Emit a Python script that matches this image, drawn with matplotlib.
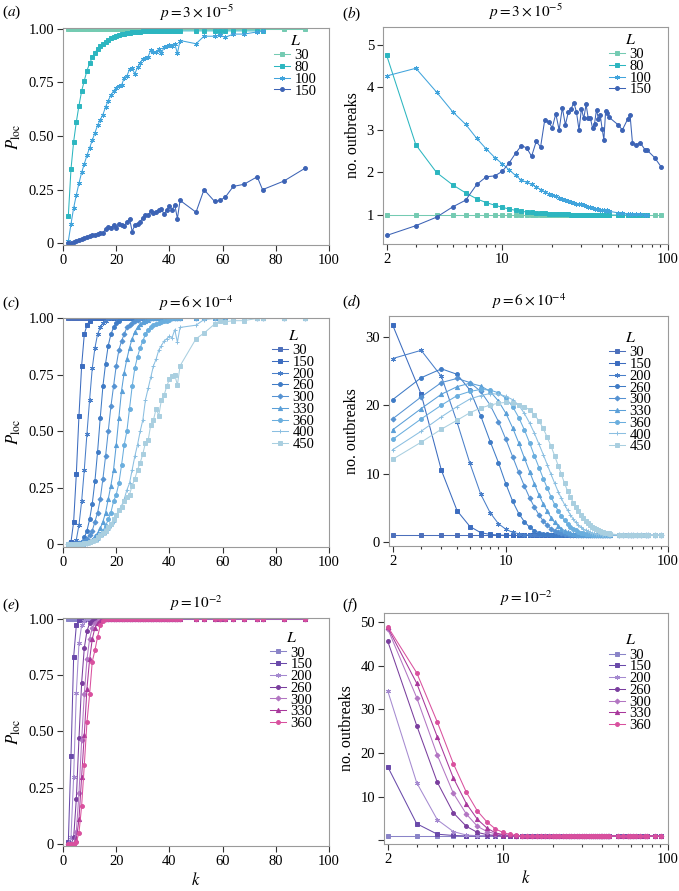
import matplotlib
matplotlib.use('Agg')
import matplotlib.pyplot as plt
from matplotlib.ticker import FixedLocator, FixedFormatter, NullFormatter

plt.rcParams['font.family'] = 'serif'
plt.rcParams['font.serif'] = ['Liberation Serif', 'DejaVu Serif']
plt.rcParams['mathtext.fontset'] = 'stix'

# k values used by every series
k_vals = [2, 3, 4, 5, 6, 7, 8, 9, 10, 11, 12, 13, 14, 15, 16, 17, 18, 19, 20, 21,
          22, 23, 24, 25, 26, 27, 28, 29, 30, 31, 32, 33, 34, 35, 36, 37, 38, 39, 40, 41,
          42, 43, 44, 50, 53, 57, 59, 61, 64, 68, 73, 75, 83, 91]

# L = 30 is flat at 1 in every panel
flat_30 = [1, 1, 1, 1, 1, 1, 1, 1, 1, 1,
           1, 1, 1, 1, 1, 1, 1, 1, 1, 1,
           1, 1, 1, 1, 1, 1, 1, 1, 1, 1,
           1, 1, 1, 1, 1, 1, 1, 1, 1, 1,
           1, 1, 1,
           1, 1, 1, 1, 1, 1, 1, 1, 1, 1, 1]

# ---- (a) P_loc, p = 3e-5 ----
a_80 = [0.128, 0.346, 0.474, 0.565, 0.642, 0.709, 0.758, 0.805, 0.838, 0.866,
        0.889, 0.905, 0.918, 0.931, 0.940, 0.948, 0.955, 0.962, 0.966, 0.970,
        0.974, 0.977, 0.980, 0.982, 0.984, 0.985, 0.986, 0.987, 0.988, 0.988,
        0.989, 0.989, 0.990, 0.990, 0.990, 0.990, 0.990, 0.990, 0.990, 0.990,
        0.990, 0.990, 0.990,
        0.990, 0.990, 0.990, 0.990, 0.990, 0.990, 0.990, 0.990, 0.990]
a_100 = [0.010, 0.090, 0.165, 0.225, 0.280, 0.330, 0.370, 0.410, 0.445, 0.480,
         0.515, 0.550, 0.575, 0.600, 0.635, 0.665, 0.690, 0.710, 0.725, 0.735,
         0.737, 0.770, 0.780, 0.810, 0.815, 0.790, 0.820, 0.840, 0.860, 0.865,
         0.870, 0.900, 0.890, 0.890, 0.905, 0.885, 0.915, 0.920, 0.925, 0.920,
         0.930, 0.885, 0.945,
         0.930, 0.965, 0.965, 0.970, 0.960, 0.975, 0.975, 0.985, 0.990]
a_150 = [0.000, 0.000, 0.005, 0.010, 0.015, 0.020, 0.025, 0.030, 0.033, 0.037,
         0.040, 0.045, 0.050, 0.050, 0.065, 0.075, 0.070, 0.085, 0.070, 0.090,
         0.085, 0.080, 0.100, 0.115, 0.055, 0.085, 0.090, 0.100, 0.120, 0.130,
         0.130, 0.150, 0.140, 0.145, 0.155, 0.160, 0.135, 0.155, 0.175, 0.155,
         0.180, 0.115, 0.200,
         0.145, 0.250, 0.195, 0.200, 0.215, 0.265, 0.275, 0.310, 0.250, 0.290, 0.350]

# ---- (b) no. outbreaks, p = 3e-5 ----
b_80 = [4.75, 2.65, 2.00, 1.71, 1.52, 1.38, 1.29, 1.23, 1.18, 1.14,
        1.11, 1.09, 1.07, 1.06, 1.05, 1.045, 1.04, 1.035, 1.03, 1.025,
        1.02, 1.02, 1.015, 1.015, 1.01, 1.01, 1.01, 1.01, 1.005, 1.005,
        1.005, 1.005, 1.005, 1, 1, 1, 1, 1, 1, 1,
        1, 1, 1,
        1, 1, 1, 1, 1, 1, 1, 1, 1]
b_100 = [4.27, 4.45, 3.89, 3.43, 3.13, 2.80, 2.55, 2.35, 2.20, 2.06,
         1.93, 1.82, 1.77, 1.72, 1.66, 1.60, 1.55, 1.50, 1.47, 1.44,
         1.41, 1.38, 1.36, 1.34, 1.31, 1.29, 1.27, 1.25, 1.25, 1.23,
         1.21, 1.19, 1.18, 1.17, 1.15, 1.14, 1.13, 1.12, 1.12, 1.11,
         1.10, 1.11, 1.09,
         1.05, 1.04, 1.03, 1.03, 1.03, 1.02, 1.02, 1.01, 1.01]
b_150 = [0.52, 0.75, 0.95, 1.19, 1.35, 1.72, 1.90, 1.92, 2.03, 2.23,
         2.45, 2.63, 2.58, 2.38, 2.73, 2.60, 3.23, 3.19, 3.05, 3.38,
         3.00, 3.52, 3.12, 3.42, 3.50, 3.64, 3.42, 3.00, 3.50, 3.27,
         3.60, 3.27, 3.27, 3.05, 3.15, 3.48, 3.25, 3.34, 3.03, 2.77,
         3.45, 3.40, 3.30,
         3.12, 3.00, 3.25, 3.35, 2.70, 2.65, 2.70, 2.52, 2.52, 2.35, 2.13]

# ---- (c) P_loc, p = 6e-4 ----
c_150 = [0, 0.01, 0.10, 0.31, 0.57, 0.79, 0.93, 0.97, 0.99, 1,
         1, 1, 1, 1, 1, 1, 1, 1, 1, 1,
         1, 1, 1, 1, 1, 1, 1, 1, 1, 1,
         1, 1, 1, 1, 1, 1, 1, 1, 1, 1,
         1, 1, 1,
         1, 1, 1, 1, 1, 1, 1, 1, 1, 1, 1]
c_200 = [0, 0, 0.005, 0.02, 0.085, 0.19, 0.33, 0.49, 0.64, 0.78,
         0.87, 0.93, 0.96, 0.98, 0.99, 1, 1, 1, 1, 1,
         1, 1, 1, 1, 1, 1, 1, 1, 1, 1,
         1, 1, 1, 1, 1, 1, 1, 1, 1, 1,
         1, 1, 1,
         1, 1, 1, 1, 1, 1, 1, 1, 1, 1, 1]
c_260 = [0, 0, 0, 0, 0.005, 0.01, 0.03, 0.06, 0.11, 0.18,
         0.28, 0.41, 0.56, 0.70, 0.80, 0.88, 0.93, 0.96, 0.98, 0.99,
         1, 1, 1, 1, 1, 1, 1, 1, 1, 1,
         1, 1, 1, 1, 1, 1, 1, 1, 1, 1,
         1, 1, 1,
         1, 1, 1, 1, 1, 1, 1, 1, 1, 1, 1]
c_300 = [0, 0, 0, 0, 0.005, 0.01, 0.015, 0.025, 0.04, 0.06,
         0.10, 0.14, 0.20, 0.29, 0.39, 0.50, 0.61, 0.70, 0.79, 0.86,
         0.90, 0.93, 0.96, 0.97, 0.98, 0.99, 0.995, 1, 1, 1,
         1, 1, 1, 1, 1, 1, 1, 1, 1, 1,
         1, 1, 1,
         1, 1, 1, 1, 1, 1, 1, 1, 1, 1, 1]
c_330 = [0, 0, 0, 0, 0, 0, 0.005, 0.01, 0.015, 0.02,
         0.035, 0.05, 0.07, 0.10, 0.14, 0.20, 0.26, 0.33, 0.44, 0.56,
         0.68, 0.76, 0.82, 0.87, 0.91, 0.94, 0.96, 0.975, 0.985, 0.99,
         0.995, 1, 1, 1, 1, 1, 1, 1, 1, 1,
         1, 1, 1,
         1, 1, 1, 1, 1, 1, 1, 1, 1, 1, 1]
c_360 = [0, 0, 0, 0, 0, 0, 0, 0.005, 0.01, 0.015,
         0.02, 0.03, 0.045, 0.06, 0.08, 0.11, 0.14, 0.19, 0.22, 0.27,
         0.35, 0.44, 0.50, 0.60, 0.70, 0.78, 0.83, 0.87, 0.90, 0.93,
         0.95, 0.96, 0.97, 0.975, 0.98, 0.985, 0.99, 0.99, 0.995, 1,
         1, 1, 1,
         1, 1, 1, 1, 1, 1, 1, 1, 1, 1, 1]
c_400 = [0, 0, 0, 0, 0, 0, 0, 0, 0.005, 0.01,
         0.015, 0.02, 0.03, 0.04, 0.05, 0.065, 0.08, 0.10, 0.12, 0.15,
         0.17, 0.20, 0.24, 0.27, 0.33, 0.39, 0.44, 0.50, 0.55, 0.64,
         0.69, 0.74, 0.79, 0.82, 0.86, 0.88, 0.90, 0.91, 0.92, 0.915,
         0.95, 0.895, 0.96,
         0.97, 0.995, 1, 1, 1, 1, 1, 1, 1, 1, 1]
c_450 = [0, 0, 0, 0, 0, 0, 0.005, 0.005, 0.01, 0.015,
         0.02, 0.03, 0.04, 0.05, 0.06, 0.075, 0.09, 0.11, 0.13, 0.15,
         0.165, 0.19, 0.21, 0.22, 0.26, 0.29, 0.33, 0.36, 0.40, 0.45,
         0.46, 0.53, 0.55, 0.60, 0.57, 0.64, 0.66, 0.70, 0.73, 0.745,
         0.75, 0.705, 0.79,
         0.91, 0.935, 0.975, 0.99, 0.985, 0.99, 0.99, 1, 1, 1, 1]

# ---- (d) no. outbreaks, p = 6e-4 ----
d_150 = [31.7, 21.6, 10.5, 4.6, 2.3, 1.4, 1.15, 1.06, 1.02, 1,
         1, 1, 1, 1, 1, 1, 1, 1, 1, 1,
         1, 1, 1, 1, 1, 1, 1, 1, 1, 1,
         1, 1, 1, 1, 1, 1, 1, 1, 1, 1,
         1, 1, 1,
         1, 1, 1, 1, 1, 1, 1, 1, 1, 1, 1]
d_200 = [26.8, 28.0, 24.2, 17.5, 11.5, 7.0, 4.3, 2.7, 1.9, 1.45,
         1.25, 1.12, 1.07, 1.04, 1.02, 1.01, 1, 1, 1, 1,
         1, 1, 1, 1, 1, 1, 1, 1, 1, 1,
         1, 1, 1, 1, 1, 1, 1, 1, 1, 1,
         1, 1, 1,
         1, 1, 1, 1, 1, 1, 1, 1, 1, 1, 1]
d_260 = [20.8, 24.0, 25.3, 24.5, 22.2, 18.4, 14.7, 11.6, 8.5, 6.0,
         4.2, 3.0, 2.2, 1.7, 1.4, 1.25, 1.15, 1.10, 1.06, 1.04,
         1.02, 1.01, 1, 1, 1, 1, 1, 1, 1, 1,
         1, 1, 1, 1, 1, 1, 1, 1, 1, 1,
         1, 1, 1,
         1, 1, 1, 1, 1, 1, 1, 1, 1, 1, 1]
d_300 = [18.0, 21.2, 23.3, 23.9, 23.3, 22.0, 20.0, 17.6, 15.0, 12.5,
         10.2, 8.2, 6.5, 5.1, 4.0, 3.1, 2.5, 2.0, 1.7, 1.5,
         1.35, 1.25, 1.17, 1.12, 1.08, 1.06, 1.04, 1.03, 1.02, 1.01,
         1, 1, 1, 1, 1, 1, 1, 1, 1, 1,
         1, 1, 1,
         1, 1, 1, 1, 1, 1, 1, 1, 1, 1, 1]
d_330 = [16.4, 19.5, 21.6, 22.7, 23.2, 22.8, 22.0, 20.6, 18.8, 16.7,
         14.5, 12.3, 10.3, 8.5, 6.9, 5.6, 4.5, 3.6, 2.9, 2.4,
         2.0, 1.7, 1.5, 1.35, 1.25, 1.18, 1.13, 1.10, 1.07, 1.05,
         1.04, 1.03, 1.02, 1.02, 1.01, 1.01, 1, 1, 1, 1,
         1, 1, 1,
         1, 1, 1, 1, 1, 1, 1, 1, 1, 1, 1]
d_360 = [15.0, 18.0, 20.0, 21.4, 22.0, 22.3, 22.2, 21.8, 21.0, 19.8,
         18.2, 16.4, 14.5, 12.6, 10.9, 9.3, 7.9, 6.6, 5.5, 4.6,
         3.8, 3.2, 2.7, 2.3, 2.0, 1.75, 1.56, 1.42, 1.32, 1.24,
         1.18, 1.14, 1.10, 1.08, 1.06, 1.05, 1.04, 1.03, 1.02, 1.02,
         1.01, 1.01, 1.01,
         1, 1, 1, 1, 1, 1, 1, 1, 1, 1, 1]
d_400 = [13.5, 16.2, 18.3, 19.8, 20.9, 21.4, 21.7, 21.6, 21.3, 20.8,
         20.0, 18.8, 17.4, 15.9, 14.3, 12.8, 11.3, 9.9, 8.6, 7.4,
         6.4, 5.5, 4.7, 4.0, 3.4, 2.9, 2.5, 2.2, 1.95, 1.75,
         1.6, 1.48, 1.38, 1.3, 1.23, 1.18, 1.14, 1.10, 1.08, 1.06,
         1.05, 1.04, 1.03,
         1.01, 1, 1, 1, 1, 1, 1, 1, 1, 1, 1]
d_450 = [12.1, 14.6, 16.5, 17.8, 18.9, 19.6, 20.0, 20.3, 20.4, 20.3,
         20.0, 19.8, 19.3, 18.6, 17.7, 16.6, 15.3, 14.0, 12.6, 11.2,
         9.9, 8.6, 7.5, 6.6, 5.8, 5.1, 4.5, 4.0, 3.5, 3.1,
         2.8, 2.5, 2.25, 2.05, 1.9, 1.75, 1.65, 1.55, 1.47, 1.4,
         1.35, 1.3, 1.25,
         1.08, 1.04, 1.02, 1.01, 1, 1, 1, 1, 1, 1, 1]

# ---- (e) P_loc, p = 1e-2 ----
e_150 = [0.01, 0.39, 0.83, 0.97, 0.995, 1, 1, 1, 1, 1,
         1, 1, 1, 1, 1, 1, 1, 1, 1, 1,
         1, 1, 1, 1, 1, 1, 1, 1, 1, 1,
         1, 1, 1, 1, 1, 1, 1, 1, 1, 1,
         1, 1, 1,
         1, 1, 1, 1, 1, 1, 1, 1, 1, 1, 1]
e_200 = [0, 0.03, 0.30, 0.67, 0.89, 0.97, 0.99, 1, 1, 1,
         1, 1, 1, 1, 1, 1, 1, 1, 1, 1,
         1, 1, 1, 1, 1, 1, 1, 1, 1, 1,
         1, 1, 1, 1, 1, 1, 1, 1, 1, 1,
         1, 1, 1,
         1, 1, 1, 1, 1, 1, 1, 1, 1, 1, 1]
e_260 = [0, 0, 0.03, 0.20, 0.47, 0.715, 0.87, 0.945, 0.98, 0.99,
         1, 1, 1, 1, 1, 1, 1, 1, 1, 1,
         1, 1, 1, 1, 1, 1, 1, 1, 1, 1,
         1, 1, 1, 1, 1, 1, 1, 1, 1, 1,
         1, 1, 1,
         1, 1, 1, 1, 1, 1, 1, 1, 1, 1, 1]
e_300 = [0, 0, 0, 0.055, 0.225, 0.46, 0.665, 0.82, 0.91, 0.96,
         0.98, 0.99, 1, 1, 1, 1, 1, 1, 1, 1,
         1, 1, 1, 1, 1, 1, 1, 1, 1, 1,
         1, 1, 1, 1, 1, 1, 1, 1, 1, 1,
         1, 1, 1,
         1, 1, 1, 1, 1, 1, 1, 1, 1, 1, 1]
e_330 = [0, 0, 0, 0.02, 0.11, 0.30, 0.485, 0.69, 0.82, 0.91,
         0.96, 0.98, 0.99, 1, 1, 1, 1, 1, 1, 1,
         1, 1, 1, 1, 1, 1, 1, 1, 1, 1,
         1, 1, 1, 1, 1, 1, 1, 1, 1, 1,
         1, 1, 1,
         1, 1, 1, 1, 1, 1, 1, 1, 1, 1, 1]
e_360 = [0, 0, 0, 0.01, 0.05, 0.17, 0.35, 0.54, 0.665, 0.81,
         0.86, 0.92, 0.97, 0.99, 1, 1, 1, 1, 1, 1,
         1, 1, 1, 1, 1, 1, 1, 1, 1, 1,
         1, 1, 1, 1, 1, 1, 1, 1, 1, 1,
         1, 1, 1,
         1, 1, 1, 1, 1, 1, 1, 1, 1, 1, 1]

# ---- (f) no. outbreaks, p = 1e-2 ----
f_150 = [16.9, 3.8, 1.4, 1.1, 1, 1, 1, 1, 1, 1,
         1, 1, 1, 1, 1, 1, 1, 1, 1, 1,
         1, 1, 1, 1, 1, 1, 1, 1, 1, 1,
         1, 1, 1, 1, 1, 1, 1, 1, 1, 1,
         1, 1, 1,
         1, 1, 1, 1, 1, 1, 1, 1, 1, 1, 1]
f_200 = [34.3, 13.2, 4.7, 2.0, 1.2, 1.05, 1, 1, 1, 1,
         1, 1, 1, 1, 1, 1, 1, 1, 1, 1,
         1, 1, 1, 1, 1, 1, 1, 1, 1, 1,
         1, 1, 1, 1, 1, 1, 1, 1, 1, 1,
         1, 1, 1,
         1, 1, 1, 1, 1, 1, 1, 1, 1, 1, 1]
f_260 = [45.7, 26.3, 13.3, 6.3, 3.2, 1.8, 1.3, 1.1, 1, 1,
         1, 1, 1, 1, 1, 1, 1, 1, 1, 1,
         1, 1, 1, 1, 1, 1, 1, 1, 1, 1,
         1, 1, 1, 1, 1, 1, 1, 1, 1, 1,
         1, 1, 1,
         1, 1, 1, 1, 1, 1, 1, 1, 1, 1, 1]
f_300 = [48.5, 32.7, 19.5, 10.8, 6.0, 3.2, 2.0, 1.5, 1.2, 1.1,
         1, 1, 1, 1, 1, 1, 1, 1, 1, 1,
         1, 1, 1, 1, 1, 1, 1, 1, 1, 1,
         1, 1, 1, 1, 1, 1, 1, 1, 1, 1,
         1, 1, 1,
         1, 1, 1, 1, 1, 1, 1, 1, 1, 1, 1]
f_330 = [48.8, 36.0, 23.7, 14.3, 8.4, 4.8, 2.8, 1.7, 1.3, 1.1,
         1, 1, 1, 1, 1, 1, 1, 1, 1, 1,
         1, 1, 1, 1, 1, 1, 1, 1, 1, 1,
         1, 1, 1, 1, 1, 1, 1, 1, 1, 1,
         1, 1, 1,
         1, 1, 1, 1, 1, 1, 1, 1, 1, 1, 1]
f_360 = [49.0, 38.4, 27.1, 17.6, 11.0, 6.7, 4.2, 2.6, 1.8, 1.35,
         1.15, 1.07, 1, 1, 1, 1, 1, 1, 1, 1,
         1, 1, 1, 1, 1, 1, 1, 1, 1, 1,
         1, 1, 1, 1, 1, 1, 1, 1, 1, 1,
         1, 1, 1,
         1, 1, 1, 1, 1, 1, 1, 1, 1, 1, 1]

# styles
star = (6, 2, 0)
style_top = {30: ('#74cbb2', 's'), 80: ('#2cb6c0', 's'), 100: ('#41a4dc', star), 150: ('#3c63b5', 'o')}
style_mid = {30: ('#4c6fbb', 's'), 150: ('#3c6cbf', 's'), 200: ('#4a7fc9', star), 260: ('#3f7bc6', 'o'),
             300: ('#5592d2', 'D'), 330: ('#5a9fd8', '^'), 360: ('#6aaede', 'o'), 400: ('#8bbfe1', '+'),
             450: ('#a9cfe0', 's')}
style_bot = {30: ('#8a84c8', 's'), 150: ('#6a4aaa', 's'), 200: ('#a58ad0', star), 260: ('#7a3e9e', 'o'),
             300: ('#b275c2', 'D'), 330: ('#a8379b', '^'), 360: ('#d9509e', 'o')}
marker_size = {'s': 2.8, 'o': 2.8, 'D': 2.5, '^': 3.0, '+': 3.2, star: 3.4}

panels = [
    ('a', [0.0928, 0.7250, 0.3918, 0.2435], False, r'$p = 3 \times 10^{-5}$', style_top,
     [(30, flat_30), (80, a_80), (100, a_100), (150, a_150)], (0.793, 0.977)),
    ('b', [0.5641, 0.7262, 0.4197, 0.2435], True, r'$p = 3 \times 10^{-5}$', style_top,
     [(30, flat_30), (80, b_80), (100, b_100), (150, b_150)], (0.793, 0.977)),
    ('c', [0.0928, 0.3864, 0.3918, 0.2570], False, r'$p = 6 \times 10^{-4}$', style_mid,
     [(30, flat_30), (150, c_150), (200, c_200), (260, c_260), (300, c_300), (330, c_330),
      (360, c_360), (400, c_400), (450, c_450)], (0.786, 0.955)),
    ('d', [0.5729, 0.3872, 0.4109, 0.2581], True, r'$p = 6 \times 10^{-4}$', style_mid,
     [(30, flat_30), (150, d_150), (200, d_200), (260, d_260), (300, d_300), (330, d_330),
      (360, d_360), (400, d_400), (450, d_450)], (0.789, 0.939)),
    ('e', [0.0928, 0.0505, 0.3918, 0.2559], False, r'$p = 10^{-2}$', style_bot,
     [(30, flat_30), (150, e_150), (200, e_200), (260, e_260), (300, e_300), (330, e_330),
      (360, e_360)], (0.778, 0.946)),
    ('f', [0.5655, 0.0527, 0.4183, 0.2593], True, r'$p = 10^{-2}$', style_bot,
     [(30, flat_30), (150, f_150), (200, f_200), (260, f_260), (300, f_300), (330, f_330),
      (360, f_360)], (0.792, 0.916)),
]

ylims = {'a': (-0.008, 1.003), 'b': (0.32, 5.42), 'c': (-0.011, 1.003),
         'd': (-0.54, 33.0), 'e': (-0.008, 1.003), 'f': (-0.86, 52.1)}
yticks = {'b': [1, 2, 3, 4, 5], 'd': [0, 10, 20, 30], 'f': [0, 10, 20, 30, 40, 50]}

fig = plt.figure(figsize=(6.79, 8.91), dpi=100)

for tag, rect, logx, title, style, series, leg_xy in panels:
    ax = fig.add_axes(rect)
    for L, vals in series:
        col, mk = style[L]
        ax.plot(k_vals[:len(vals)], vals, color=col, lw=0.75, marker=mk,
                ms=marker_size[mk], mew=0.7, label=str(L))

    for side in ['top', 'right', 'left', 'bottom']:
        ax.spines[side].set_color('#9a9a9a')
        ax.spines[side].set_linewidth(0.8)
    ax.tick_params(which='both', direction='out', color='#333333', width=0.8,
                   labelsize=10.5, top=False, right=False, pad=2)
    ax.tick_params(which='major', length=4.5)
    ax.tick_params(which='minor', length=2.2)

    ax.set_ylim(*ylims[tag])
    if logx:
        ax.set_xscale('log')
        ax.set_xlim(1.9, 100)
        ax.xaxis.set_major_locator(FixedLocator([2, 10, 100]))
        ax.xaxis.set_major_formatter(FixedFormatter(['2', '10', '100']))
        ax.xaxis.set_minor_locator(FixedLocator([3, 4, 5, 6, 7, 8, 9, 20, 30, 40, 50, 60, 70, 80, 90]))
        ax.xaxis.set_minor_formatter(NullFormatter())
        ax.set_yticks(yticks[tag])
        if tag == 'f':
            ax.set_yticklabels(['', '10', '20', '30', '40', '50'])
        ax.set_ylabel('no. outbreaks', fontsize=11.5, labelpad=4)
    else:
        ax.set_xlim(0, 100)
        ax.set_xticks([0, 20, 40, 60, 80, 100])
        ax.set_yticks([0, 0.25, 0.5, 0.75, 1.0])
        ax.set_yticklabels(['0', '0.25', '0.50', '0.75', '1.00'])
        ax.set_ylabel(r'$P_{\rm loc}$', fontsize=12, labelpad=4)

    if tag in ('e', 'f'):
        ax.set_xlabel(r'$k$', fontsize=12, labelpad=3)

    ax.set_title(title, fontsize=11, pad=7)
    leg = ax.legend(loc='upper left', bbox_to_anchor=leg_xy, frameon=False, fontsize=10.5,
                    title=r'$L$', title_fontsize=11.5, handlelength=1.1, handletextpad=0.3,
                    labelspacing=-0.1, borderpad=0, borderaxespad=0)
    leg._legend_box.sep = 0

    fx = 0.003 if tag in ('a', 'c', 'e') else 0.503
    fy = {'a': 0.986, 'b': 0.985, 'c': 0.660, 'd': 0.661, 'e': 0.321, 'f': 0.321}[tag]
    fig.text(fx, fy, '($%s$)' % tag, fontsize=11, va='center', ha='left')

fig.savefig('out.png', dpi=100)
